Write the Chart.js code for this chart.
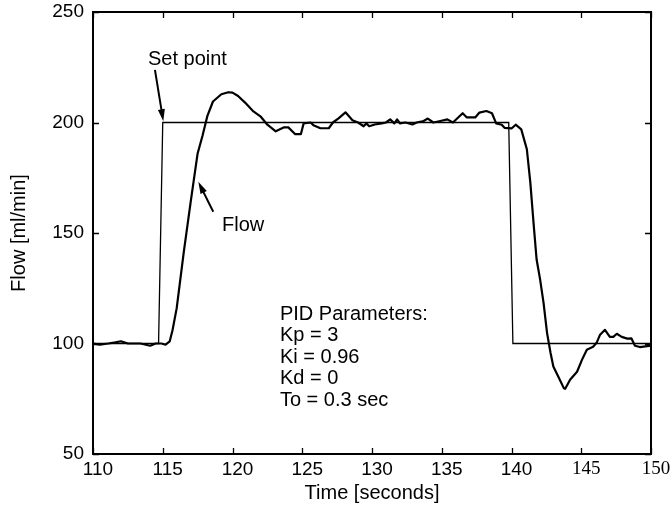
<!DOCTYPE html>
<html>
<head>
<meta charset="utf-8">
<script src="https://cdn.jsdelivr.net/npm/chart.js@4"></script>
<style>
html,body{margin:0;padding:0;background:#fff;}
#c{display:block;}
</style>
</head>
<body>
<canvas id="c" width="672" height="508" style="width:672px;height:508px"></canvas>
<script>
// ---- data ----
const xTicks = [110, 115, 120, 125, 130, 135, 140, 145, 150];
const yTicks = [50, 100, 150, 200, 250];

const setTime   = [110, 114.7, 115.0, 139.8, 140.1, 150];
const setValues = [100, 100, 200, 200, 100, 100];

const flowTime = [
  110.0,110.5,111.1,111.6,112.0,112.5,113.0,113.4,114.1,114.5,114.9,115.2,115.5,115.7,116.0,116.5,
  117.0,117.5,117.85,118.2,118.6,119.2,119.7,120.0,120.4,120.9,121.5,122.0,122.5,123.1,123.7,124.0,
  124.5,124.9,125.1,125.6,125.8,126.3,126.9,127.2,127.6,128.1,128.6,129.0,129.4,129.6,129.8,130.2,
  130.7,131.0,131.3,131.6,131.8,132.0,132.4,132.9,133.2,133.7,134.0,134.4,134.9,135.4,135.8,136.5,
  136.8,137.4,137.7,138.2,138.6,138.9,139.3,139.5,140.0,140.3,140.7,141.1,141.35,141.6,141.8,142.05,
  142.3,142.55,142.8,143.0,143.35,143.75,143.85,144.2,144.7,145.05,145.4,145.85,146.1,146.35,146.7,147.05,
  147.3,147.55,147.9,148.3,148.6,148.85,149.2,150.0
];
const flowValues = [
  100,99.5,100,100.5,101,100,100,100,99,100,100,99.5,101,106,116,141,
  164,186,194,203,209.5,212.8,213.7,213.5,212,209,205,202.8,199,196,197.8,197.8,
  194.7,194.7,199.6,200,198.8,197.4,197.4,200,201.9,204.6,201,200,198.3,199.6,198.3,199.1,
  199.6,200,201.4,199.6,201.4,199.6,200,199.1,200,200.7,201.8,200,200.7,201.4,200,204.2,
  202.3,202.3,204.5,205.2,204.2,199.6,199,197.6,197.3,199,196.9,187.9,172.8,153,138,129,
  118.3,104.7,95.7,89.6,85.1,79.8,79.5,83.6,87.2,92.6,97.2,98.5,100.3,104,106.2,103,
  103,104.4,103,102.2,102.3,99,98.4,99
];

const annotTexts = ["Set point", "Flow"];
const pidLines = ["PID Parameters:", "Kp = 3", "Ki = 0.96", "Kd = 0", "To = 0.3 sec"];
// anchor positions (data units)
const setLabelPos = [113.94, 228.3];
const flowLabelPos = [119.25, 153.6];
const pidPos = [123.4, 113.3];
const setArrow = [[114.44, 223.8], [115.04, 200.6]];
const flowArrow = [[118.62, 159.6], [117.55, 173.2]];

const SANS = "'Liberation Sans', Arial, sans-serif";
const SERIF = "'Liberation Serif', 'Times New Roman', serif";

function toPts(xs, ys){ return xs.map((x,i)=>({x:x, y:ys[i]})); }

function arrow(ctx, x0, y0, x1, y1){
  const ang = Math.atan2(y1-y0, x1-x0);
  const L = 12, W = 3.5;
  ctx.beginPath();
  ctx.moveTo(x0, y0);
  ctx.lineTo(x1 - Math.cos(ang)*L*0.8, y1 - Math.sin(ang)*L*0.8);
  ctx.lineWidth = 2;
  ctx.strokeStyle = '#000';
  ctx.stroke();
  ctx.beginPath();
  ctx.moveTo(x1, y1);
  ctx.lineTo(x1 - Math.cos(ang)*L - Math.sin(ang)*W, y1 - Math.sin(ang)*L + Math.cos(ang)*W);
  ctx.lineTo(x1 - Math.cos(ang)*L + Math.sin(ang)*W, y1 - Math.sin(ang)*L - Math.cos(ang)*W);
  ctx.closePath();
  ctx.fillStyle = '#000';
  ctx.fill();
}

const framePlugin = {
  id: 'frame',
  afterDatasetsDraw(chart){
    const ctx = chart.ctx, a = chart.chartArea;
    const xs = chart.scales.x, ys = chart.scales.y;
    ctx.save();
    ctx.strokeStyle = '#000';
    ctx.lineWidth = 2;
    ctx.strokeRect(a.left, a.top, a.right - a.left, a.bottom - a.top);
    ctx.lineWidth = 1.3;
    const tl = 6;
    ctx.beginPath();
    xTicks.forEach(v => {
      const px = Math.round(xs.getPixelForValue(v)) + 0.5;
      ctx.moveTo(px, a.bottom); ctx.lineTo(px, a.bottom - tl);
      ctx.moveTo(px, a.top); ctx.lineTo(px, a.top + tl);
    });
    yTicks.forEach(v => {
      const py = Math.round(ys.getPixelForValue(v)) + 0.5;
      ctx.moveTo(a.left, py); ctx.lineTo(a.left + tl, py);
      ctx.moveTo(a.right, py); ctx.lineTo(a.right - tl, py);
    });
    ctx.stroke();
    ctx.fillStyle = '#000';
    ctx.font = "20px " + SANS;
    ctx.textAlign = 'left';
    ctx.textBaseline = 'middle';
    ctx.fillText(annotTexts[0], xs.getPixelForValue(setLabelPos[0]), ys.getPixelForValue(setLabelPos[1]));
    ctx.fillText(annotTexts[1], xs.getPixelForValue(flowLabelPos[0]), ys.getPixelForValue(flowLabelPos[1]));
    const px0 = xs.getPixelForValue(pidPos[0]);
    const py0 = ys.getPixelForValue(pidPos[1]);
    pidLines.forEach((t, i) => ctx.fillText(t, px0, py0 + i * 21.5));
    arrow(ctx, xs.getPixelForValue(setArrow[0][0]), ys.getPixelForValue(setArrow[0][1]),
               xs.getPixelForValue(setArrow[1][0]), ys.getPixelForValue(setArrow[1][1]));
    arrow(ctx, xs.getPixelForValue(flowArrow[0][0]), ys.getPixelForValue(flowArrow[0][1]),
               xs.getPixelForValue(flowArrow[1][0]), ys.getPixelForValue(flowArrow[1][1]));
    ctx.restore();
  }
};

new Chart(document.getElementById('c'), {
  type: 'scatter',
  data: {
    datasets: [
      { label: 'Set point', data: toPts(setTime, setValues), showLine: true,
        borderColor: '#000', borderWidth: 1.3, pointRadius: 0, tension: 0, fill: false },
      { label: 'Flow', data: toPts(flowTime, flowValues), showLine: true,
        borderColor: '#000', borderWidth: 2.2, pointRadius: 0, tension: 0, fill: false,
        borderJoinStyle: 'round' }
    ]
  },
  options: {
    responsive: false,
    animation: false,
    devicePixelRatio: 1,
    layout: { padding: { left: 0, right: 21, top: 12, bottom: 0 } },
    plugins: { legend: { display: false }, tooltip: { enabled: false } },
    scales: {
      x: {
        type: 'linear', min: 110, max: 150,
        afterBuildTicks: (s) => { s.ticks = xTicks.map(v => ({ value: v })); },
        afterFit: (s) => { s.height = 54; s.paddingLeft = 0; s.paddingRight = 0; s.paddingTop = 0; s.paddingBottom = 0; },
        grid: { display: false, drawTicks: false },
        border: { display: false },
        ticks: {
          color: '#000', padding: 4, labelOffset: 5, maxRotation: 0, autoSkip: false,
          font: (c) => (c.tick && c.tick.value >= 145) ? { family: SERIF, size: 19 } : { family: SANS, size: 19 }
        },
        title: { display: true, text: 'Time [seconds]', color: '#000',
                 font: { family: SANS, size: 20 }, padding: { top: 0, bottom: 3 } }
      },
      y: {
        type: 'linear', min: 50, max: 250,
        afterBuildTicks: (s) => { s.ticks = yTicks.map(v => ({ value: v })); },
        afterFit: (s) => { s.width = 93; s.paddingTop = 0; s.paddingBottom = 0; s.paddingLeft = 0; s.paddingRight = 0; },
        grid: { display: false, drawTicks: false },
        border: { display: false },
        ticks: { color: '#000', padding: 9, font: { family: SANS, size: 19 } },
        title: { display: true, text: 'Flow [ml/min]', color: '#000',
                 font: { family: SANS, size: 20 }, padding: { top: 7, bottom: 0 } }
      }
    }
  },
  plugins: [framePlugin]
});
</script>
</body>
</html>
